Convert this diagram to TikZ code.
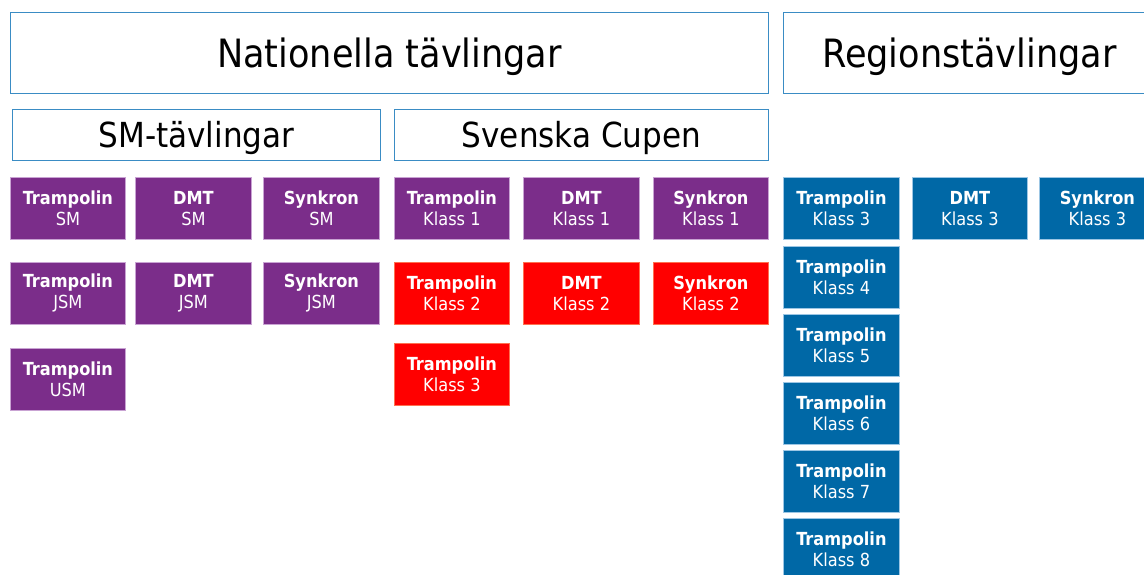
\documentclass[tikz,border=0pt]{standalone}
\usepackage{fontspec}
\setmainfont{DejaVu Sans Condensed}
\definecolor{hdrline}{HTML}{3A8CC4}
\definecolor{purp}{HTML}{7B2D8A}
\definecolor{purpline}{HTML}{C9A3D3}
\definecolor{redf}{HTML}{FF0000}
\definecolor{redline}{HTML}{FF7050}
\definecolor{bluef}{HTML}{0068A6}
\definecolor{blueline}{HTML}{9CC6E4}
\tikzset{
  hdr/.style={draw=hdrline, line width=0.9pt, fill=white, anchor=north west, inner sep=0pt, text=black, text depth=0pt},
  big/.style={hdr, minimum height=81pt, text height=28.5pt, font=\fontsize{39}{43}\selectfont},
  mid/.style={hdr, minimum height=51pt, text height=25pt, font=\fontsize{34.5}{38}\selectfont},
  cell/.style={anchor=north west, inner sep=0pt, minimum width=116pt, minimum height=62pt,
    text=white, align=center, font=\fontsize{18}{21}\selectfont, line width=0.8pt},
  pcell/.style={cell, fill=purp, draw=purpline},
  rcell/.style={cell, fill=redf, draw=redline},
  bcell/.style={cell, fill=bluef, draw=blueline},
}
\newcommand{\two}[2]{{\bfseries #1}\\#2}
\begin{document}
\begin{tikzpicture}[x=1pt,y=-1pt]
\useasboundingbox (0,0) rectangle (1144,575);
\clip (0,0) rectangle (1144,575);
\fill[white] (0,0) rectangle (1144,575);
% headers
\node[big, minimum width=758pt] (nat) at (10,12) {Nationella tävlingar};
\node[big, minimum width=372pt] (reg) at (783,12) {Regionstävlingar};
\node[mid, minimum width=368pt] (sm) at (12,109) {SM-tävlingar};
\node[mid, minimum width=374pt] (sc) at (394,109) {Svenska Cupen};
% SM
\node[pcell, minimum width=115pt] (smt) at (10,177) {\two{Trampolin}{SM}};
\node[pcell] (smd) at (135,177) {\two{DMT}{SM}};
\node[pcell] (sms) at (263,177) {\two{Synkron}{SM}};
\node[pcell, minimum width=115pt] (jsmt) at (10,262) {\two{Trampolin}{JSM}};
\node[pcell] (jsmd) at (135,262) {\two{DMT}{JSM}};
\node[pcell] (jsms) at (263,262) {\two{Synkron}{JSM}};
\node[pcell, minimum width=115pt] (usmt) at (10,348) {\two{Trampolin}{USM}};
% Svenska Cupen
\node[pcell, minimum width=115pt] (k1t) at (394,177) {\two{Trampolin}{Klass 1}};
\node[pcell] (k1d) at (523,177) {\two{DMT}{Klass 1}};
\node[pcell, minimum width=115pt] (k1s) at (653,177) {\two{Synkron}{Klass 1}};
\node[rcell, minimum width=115pt] (k2t) at (394,262) {\two{Trampolin}{Klass 2}};
\node[rcell] (k2d) at (523,262) {\two{DMT}{Klass 2}};
\node[rcell, minimum width=115pt] (k2s) at (653,262) {\two{Synkron}{Klass 2}};
\node[rcell, minimum width=115pt] (k3t) at (394,343) {\two{Trampolin}{Klass 3}};
% Region
\node[bcell] (r3t) at (783,177) {\two{Trampolin}{Klass 3}};
\node[bcell, minimum width=115pt] (r3d) at (912,177) {\two{DMT}{Klass 3}};
\node[bcell] (r3s) at (1039,177) {\two{Synkron}{Klass 3}};
\node[bcell] (r4t) at (783,246) {\two{Trampolin}{Klass 4}};
\node[bcell] (r5t) at (783,314) {\two{Trampolin}{Klass 5}};
\node[bcell] (r6t) at (783,382) {\two{Trampolin}{Klass 6}};
\node[bcell] (r7t) at (783,450) {\two{Trampolin}{Klass 7}};
\node[bcell] (r8t) at (783,518) {\two{Trampolin}{Klass 8}};
\end{tikzpicture}
\end{document}
